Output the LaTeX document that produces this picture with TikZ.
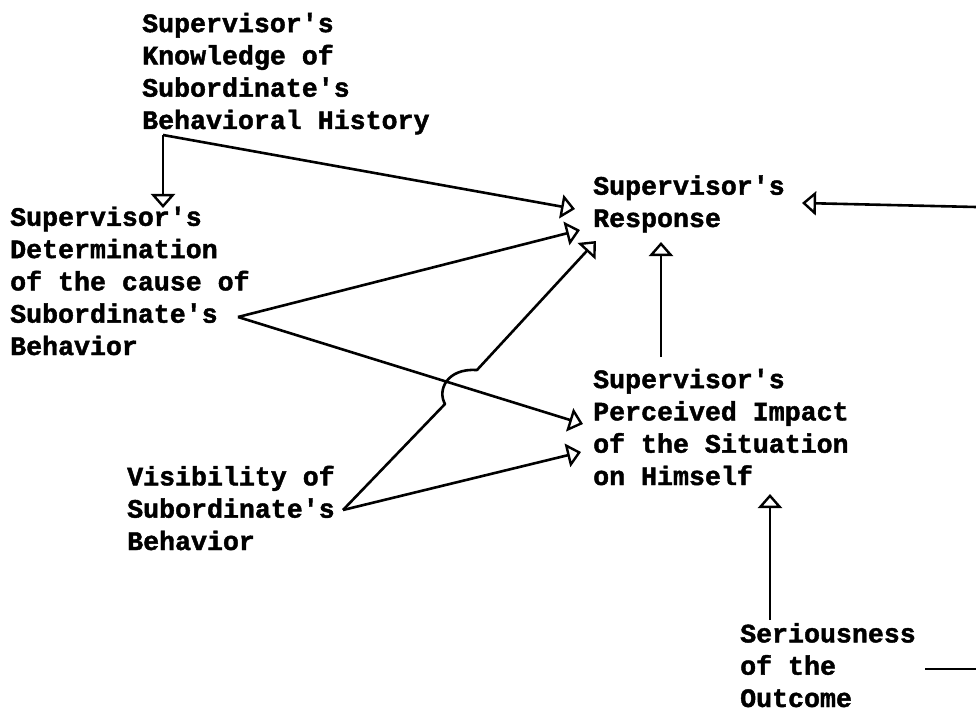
\documentclass[tikz,border=0pt]{standalone}
\usepackage{fontspec}
\newfontfamily\twfont{Liberation Mono}[BoldFeatures={FakeBold=1.6}]
\usetikzlibrary{arrows.meta}
\begin{document}
\begin{tikzpicture}[x=1pt,y=-1pt,
  lbl/.style={anchor=base west,inner sep=0pt,align=left,
    font=\twfont\bfseries\fontsize{26.6}{32.3}\selectfont},
  conn/.style={line width=2.6pt,line join=round},
  tri/.style={-{Triangle[open,length=14pt,width=24pt,line width=2.4pt]}}]
\useasboundingbox (0,0) rectangle (976,711);
% text blocks (anchored at the baseline of their last line)
\node[lbl] (know) at (142,129) {Supervisor's\\Knowledge of\\Subordinate's\\Behavioral History};
\node[lbl] (det) at (10,355) {Supervisor's\\Determination\\of the cause of\\Subordinate's\\Behavior};
\node[lbl] (resp) at (593,227) {Supervisor's\\Response};
\node[lbl] (perc) at (593,485) {Supervisor's\\Perceived Impact\\of the Situation\\on Himself};
\node[lbl] (vis) at (127,550) {Visibility of\\Subordinate's\\Behavior};
\node[lbl] (ser) at (740,707) {Seriousness\\of the\\Outcome};
% ports
\coordinate (kcorner) at (163,135);
\coordinate (dapex) at (238,317);
\coordinate (vapex) at (343,510);
\coordinate (r1) at (575,209);
\coordinate (r2) at (580,230);
\coordinate (r3) at (596,241);
\coordinate (rbot) at (661,242);
\coordinate (rright) at (802,203);
\coordinate (p1) at (583,424);
\coordinate (p2) at (581,452);
\coordinate (pbot) at (770,494);
\coordinate (ptop) at (661,357);
\coordinate (stop) at (770,620);
\coordinate (dtop) at (163,208);
\coordinate (edgeA) at (976,207);
\coordinate (edgeB) at (976,669);
\coordinate (serout) at (925,669);
\coordinate (hopA) at (445,404);
\coordinate (hopB) at (477,370);
% connectors
\draw[conn,tri] (kcorner) -- (dtop);
\draw[conn,tri] (kcorner) -- (r1);
\draw[conn,tri] (dapex) -- (r2);
\draw[conn,tri] (dapex) -- (p1);
\draw[conn,tri] (vapex) -- (hopA) .. controls (437,390) and (447,368) .. (hopB) -- (r3);
\draw[conn,tri] (vapex) -- (p2);
\draw[conn,tri] (ptop) -- (rbot);
\draw[conn,tri] (stop) -- (pbot);
\draw[conn,tri] (edgeA) -- (rright);
\draw[conn] (serout) -- (edgeB);
\end{tikzpicture}
\end{document}
